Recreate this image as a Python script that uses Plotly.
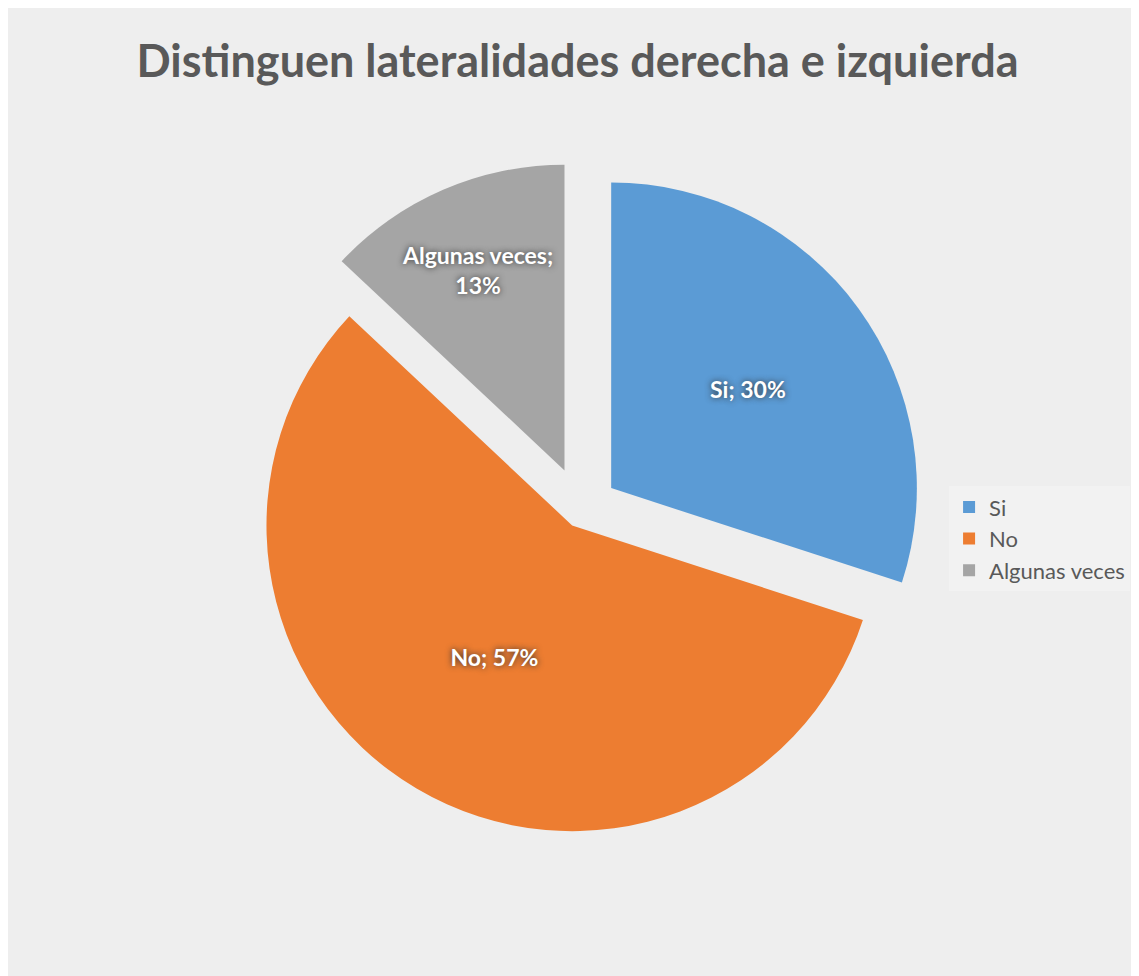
import plotly.graph_objects as go

categories = ["Si", "No", "Algunas veces"]
values = [30, 57, 13]
colors = ["#5B9BD5", "#ED7D31", "#A5A5A5"]
templates = ["%{label}; %{percent:.0%}", "%{label}; %{percent:.0%}", "%{label};<br>%{percent:.0%}"]

fig = go.Figure(go.Pie(
    labels=categories,
    values=values,
    sort=False,
    direction="clockwise",
    rotation=0,
    pull=[0.12, 0.06, 0.14],
    marker=dict(colors=colors, line=dict(color="#ffffff", width=0)),
    texttemplate=templates,
    textposition="inside",
    insidetextorientation="horizontal",
    textfont=dict(family="Lato", size=23, color="#ffffff", weight="bold", shadow="0px 0px 6px #303030"),
    domain=dict(x=[0.14, 0.86], y=[0.13, 0.85]),
    hoverinfo="label+percent",
))

fig.update_layout(
    width=1139, height=976,
    title=dict(text="<b>Distinguen lateralidades derecha e izquierda</b>",
               x=0.5, xanchor="center", y=0.945, yanchor="middle",
               font=dict(family="Lato", size=45, color="#595959")),
    paper_bgcolor="#EEEEEE",
    plot_bgcolor="#EEEEEE",
    margin=dict(l=8, r=0, t=8, b=0),
    legend=dict(x=0.825, xanchor="left", y=0.46, yanchor="middle",
                font=dict(family="Lato", size=22, color="#595959"),
                bgcolor="rgba(242,242,242,0.9)", itemwidth=30),
    showlegend=True,
)

fig.write_html("out.html")
